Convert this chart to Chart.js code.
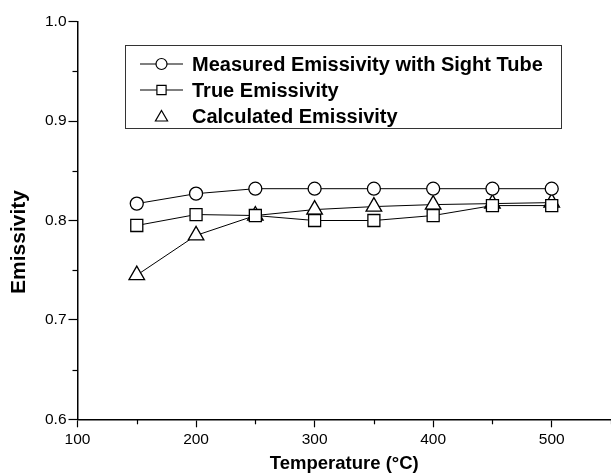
<!DOCTYPE html>
<html>
<head>
<meta charset="utf-8">
<script src="https://cdn.jsdelivr.net/npm/chart.js@4/dist/chart.umd.min.js"></script>
<style>
  html, body { margin: 0; padding: 0; background: #fff; }
  #wrap { width: 611px; height: 475px; }
</style>
</head>
<body>
<div id="wrap"><canvas id="emissivity-chart"></canvas></div>
<script>
"use strict";

// Temperature (°C)
var temps = [150, 200, 250, 300, 350, 400, 450, 500];
// Emissivity series
var measured = [0.817, 0.827, 0.832, 0.832, 0.832, 0.832, 0.832, 0.832];
var trueEmis = [0.795, 0.806, 0.805, 0.800, 0.800, 0.805, 0.815, 0.815];
var calculated = [0.745, 0.785, 0.805, 0.811, 0.814, 0.816, 0.817, 0.818];

var seriesNames = ["Measured Emissivity with Sight Tube", "True Emissivity", "Calculated Emissivity"];
var xTicks = [100, 200, 300, 400, 500];
var yTicks = [0.6, 0.7, 0.8, 0.9, 1.0];
var xMinor = [150, 250, 350, 450, 550];
var yMinor = [0.65, 0.75, 0.85, 0.95];

function pts(ys) {
  return temps.map(function(t, i) { return { x: t, y: ys[i] }; });
}

function isMajor(list, v) {
  return list.some(function(t) { return Math.abs(t - v) < 1e-6; });
}

function marker(ctx, style, x, y, r) {
  ctx.beginPath();
  if (style === "circle") {
    ctx.arc(x, y, r, 0, Math.PI * 2);
  } else if (style === "rect") {
    var s = Math.SQRT1_2 * r;
    ctx.rect(x - s, y - s, 2 * s, 2 * s);
  } else {
    ctx.moveTo(x, y - r);
    ctx.lineTo(x + r * Math.sin(2 * Math.PI / 3), y - r * Math.cos(2 * Math.PI / 3));
    ctx.lineTo(x + r * Math.sin(4 * Math.PI / 3), y - r * Math.cos(4 * Math.PI / 3));
    ctx.closePath();
  }
  ctx.fillStyle = "#fff";
  ctx.fill();
  ctx.stroke();
}

var legendRadius = { circle: 5.5, rect: 6.5, triangle: 7 };

// minor ticks, legend box and y axis title
var extras = {
  id: "extras",
  afterDraw: function(chart) {
    var ctx = chart.ctx;
    var xs = chart.scales.x, ys = chart.scales.y;
    ctx.save();
    ctx.strokeStyle = "#000";
    ctx.lineWidth = 1.2;
    xMinor.forEach(function(v) {
      var px = Math.round(xs.getPixelForValue(v)) + 0.5;
      ctx.beginPath();
      ctx.moveTo(px, xs.top);
      ctx.lineTo(px, xs.top + 5);
      ctx.stroke();
    });
    yMinor.forEach(function(v) {
      var py = Math.round(ys.getPixelForValue(v)) + 0.5;
      ctx.beginPath();
      ctx.moveTo(ys.right, py);
      ctx.lineTo(ys.right - 5, py);
      ctx.stroke();
    });

    // legend
    ctx.lineWidth = 1;
    ctx.strokeStyle = "#333";
    ctx.strokeRect(125.5, 45.5, 436, 83);
    ctx.font = "bold 20px 'Liberation Sans', Arial, sans-serif";
    ctx.textBaseline = "middle";
    ctx.textAlign = "left";
    chart.data.datasets.forEach(function(ds, i) {
      var y = 64 + 26 * i;
      ctx.strokeStyle = "#000";
      ctx.lineWidth = 1.2;
      if (ds.legendLine) {
        ctx.beginPath();
        ctx.moveTo(140, y);
        ctx.lineTo(183, y);
        ctx.stroke();
      }
      var my = ds.pointStyle === "triangle" ? y + 1.5 : y;
      marker(ctx, ds.pointStyle, 161.5, my, legendRadius[ds.pointStyle]);
      ctx.fillStyle = "#000";
      ctx.fillText(ds.label, 192, y + 1);
    });

    // y title
    ctx.translate(19, 242);
    ctx.rotate(-Math.PI / 2);
    ctx.font = "bold 21px 'Liberation Sans', Arial, sans-serif";
    ctx.textAlign = "center";
    ctx.fillStyle = "#000";
    ctx.fillText("Emissivity", 0, 0);
    ctx.restore();
  }
};

var tickFont = { family: "'Liberation Sans', Arial, sans-serif", size: 15.5 };

var chart = new Chart(document.getElementById("emissivity-chart"), {
  type: "line",
  data: {
    datasets: [{
      label: seriesNames[0],
      data: pts(measured),
      pointStyle: "circle",
      pointRadius: 6.5,
      legendLine: true
    }, {
      label: seriesNames[1],
      data: pts(trueEmis),
      pointStyle: "rect",
      pointRadius: 8.5,
      legendLine: true
    }, {
      label: seriesNames[2],
      data: pts(calculated),
      pointStyle: "triangle",
      pointRadius: 9,
      legendLine: false
    }]
  },
  options: {
    responsive: true,
    maintainAspectRatio: false,
    animation: false,
    layout: { autoPadding: false, padding: { top: 21.7, right: 0, bottom: 0, left: 0 } },
    elements: {
      line: { borderColor: "#000", borderWidth: 1, tension: 0, fill: false },
      point: { backgroundColor: "#fff", borderColor: "#000", borderWidth: 1.3, hoverRadius: 6.5 }
    },
    plugins: {
      legend: { display: false },
      tooltip: { enabled: false }
    },
    scales: {
      x: {
        type: "linear",
        min: 100,
        max: 550,
        afterFit: function(s) { s.height = 55.7; s.paddingRight = 0; s.paddingLeft = 0; },
        ticks: {
          stepSize: 50,
          autoSkip: false,
          maxRotation: 0,
          padding: 3,
          color: "#000",
          font: tickFont,
          callback: function(v) { return isMajor(xTicks, v) ? String(v) : ""; }
        },
        grid: {
          drawOnChartArea: false,
          tickLength: 8,
          tickWidth: 1.2,
          tickColor: function(c) { return isMajor(xTicks, c.tick.value) ? "#000" : "rgba(0,0,0,0)"; }
        },
        border: { display: true, color: "#000", width: 1.5 },
        title: {
          display: true,
          text: "Temperature (°C)",
          color: "#000",
          font: { family: "'Liberation Sans', Arial, sans-serif", size: 18.5, weight: "bold" },
          padding: { top: 0, bottom: 0 }
        }
      },
      y: {
        min: 0.6,
        max: 1.0,
        afterFit: function(s) { s.width = 77.5; },
        ticks: {
          stepSize: 0.05,
          autoSkip: false,
          padding: 2,
          color: "#000",
          font: tickFont,
          callback: function(v) { return isMajor(yTicks, v) ? v.toFixed(1) : ""; }
        },
        grid: {
          drawOnChartArea: false,
          tickLength: 9,
          tickWidth: 1.2,
          tickColor: function(c) { return isMajor(yTicks, c.tick.value) ? "#000" : "rgba(0,0,0,0)"; }
        },
        border: { display: true, color: "#000", width: 1.5 }
      }
    }
  },
  plugins: [extras]
});
</script>
</body>
</html>
